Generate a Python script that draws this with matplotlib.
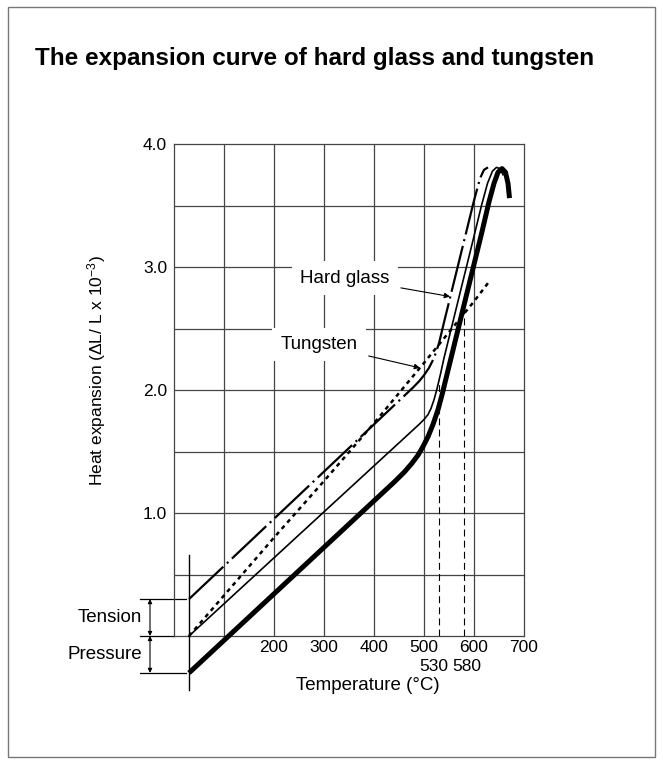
import numpy as np
import matplotlib
matplotlib.use("Agg")
import matplotlib.pyplot as plt
from matplotlib.patches import Rectangle

plt.rcParams['font.family'] = ['Liberation Sans', 'DejaVu Sans']
plt.rcParams['mathtext.fontset'] = 'custom'
plt.rcParams['mathtext.rm'] = 'Liberation Sans'
plt.rcParams['mathtext.it'] = 'Liberation Sans:italic'
plt.rcParams['lines.scale_dashes'] = False

# ---------------- data ----------------
title = "The expansion curve of hard glass and tungsten"
x_label = "Temperature (\u00b0C)"
y_label = "Heat expansion (\u0394L/ L x 10$^{-3}$)"
x_ticks = [200, 300, 400, 500, 600, 700]
y_ticks = [1.0, 2.0, 3.0, 4.0]
marked_temps = [530, 580]

# hard glass, sealed under tension (dash-dot)
glass_tension_t = [30, 478, 490, 500, 510, 520, 530, 540, 600, 612, 620, 628]
glass_tension_v = [0.30, 2.02, 2.07, 2.12, 2.18, 2.26, 2.38, 2.55, 3.54, 3.72, 3.79, 3.81]

# hard glass, neutral (thin solid)
glass_neutral_t = [30, 470, 490, 500, 508, 514, 520, 526, 533, 540, 600, 615, 627, 637, 645,
                   652, 658]
glass_neutral_v = [0.00, 1.645, 1.72, 1.76, 1.80, 1.85, 1.92, 2.01, 2.13, 2.26, 3.25, 3.50,
                   3.68, 3.78, 3.81, 3.80, 3.75]

# hard glass, sealed under pressure (thick solid)
glass_pressure_t = [30, 440, 460, 475, 488, 498, 508, 518, 528, 536, 545, 615, 630, 640, 648,
                    656, 663, 668, 671]
glass_pressure_v = [-0.30, 1.25, 1.33, 1.40, 1.47, 1.54, 1.62, 1.72, 1.84, 1.96, 2.11, 3.27,
                    3.53, 3.68, 3.77, 3.80, 3.77, 3.68, 3.56]

# tungsten (short dashes)
tungsten_t = [30, 200, 300, 400, 500, 600, 630]
tungsten_v = [0.00, 0.80, 1.26, 1.73, 2.22, 2.72, 2.88]

tension_level = 0.3
pressure_level = -0.3
start_temp = 30

# ---------------- figure ----------------
W, H = 663, 766
fig = plt.figure(figsize=(W / 100, H / 100), dpi=100)
fig.patch.set_facecolor('white')
fig.add_artist(Rectangle((8 / W, 9 / H), 647 / W, 750 / H, transform=fig.transFigure,
                         fill=False, edgecolor='#777777', lw=1.0))

fig.text(35 / W, 1 - 58 / H, title, fontsize=17.5, fontweight='bold', ha='left', va='center')

ax = fig.add_axes([174 / W, 130 / H, 350 / W, 492 / H])
ax.set_xlim(0, 700)
ax.set_ylim(0, 4.0)

gcol = '#444444'
for s in ax.spines.values():
    s.set_color(gcol)
    s.set_linewidth(0.9)

# grid
for t in range(100, 700, 100):
    ax.axvline(t, color=gcol, lw=0.9, zorder=1)
for v in np.arange(0.5, 4.0, 0.5):
    ax.axhline(v, color=gcol, lw=0.9, zorder=1)

ax.set_xticks(x_ticks)
ax.set_xticklabels([str(t) for t in x_ticks])
ax.set_yticks(y_ticks)
ax.set_yticklabels([f"{v:.1f}" for v in y_ticks])
ax.tick_params(axis='x', length=0, labelsize=12.5, pad=3)
ax.tick_params(axis='y', length=0, labelsize=12.5, pad=5)

ax.set_xlabel(x_label, fontsize=13.5)
ax.xaxis.set_label_coords((368 - 174) / 350, -(677 - 636) / 492)
ax.set_ylabel(y_label, fontsize=12.5)
ax.yaxis.set_label_coords(-(174 - 108) / 350, (636 - 371) / 492)

# curves
ax.plot(glass_tension_t, glass_tension_v, color='black', lw=1.6,
        linestyle=(0, (34, 3.5, 1.5, 3.5)), clip_on=False, zorder=4)
ax.plot(glass_neutral_t, glass_neutral_v, color='black', lw=1.2, clip_on=False, zorder=4)
ax.plot(glass_pressure_t, glass_pressure_v, color='black', lw=3.6, clip_on=False,
        zorder=4, solid_capstyle='butt')
ax.plot(tungsten_t, tungsten_v, color='black', lw=1.8,
        linestyle=(0, (3, 3)), clip_on=False, zorder=4)

# dashed markers at 530 / 580
tops = [np.interp(marked_temps[0], glass_neutral_t, glass_neutral_v),
        np.interp(marked_temps[1], glass_pressure_t, glass_pressure_v)]
for t, top in zip(marked_temps, tops):
    ax.plot([t, t], [0, top], color='black', lw=0.8, linestyle=(0, (5, 3)), zorder=3)
ax.text(519, -0.25, str(marked_temps[0]), fontsize=12.5, ha='center', va='center')
ax.text(585, -0.25, str(marked_temps[1]), fontsize=12.5, ha='center', va='center')

# origin line at start temperature
ax.plot([start_temp, start_temp], [-0.44, 0.66], color='black', lw=1.0, clip_on=False, zorder=3)

# tension / pressure brackets
for lvl in [tension_level, 0.0, pressure_level]:
    ax.plot([-68, 24 if lvl != 0 else 0], [lvl, lvl], color='black', lw=0.9, clip_on=False)
ax.annotate('', xy=(-48, tension_level), xytext=(-48, 0), annotation_clip=False,
            arrowprops=dict(arrowstyle='<|-|>', lw=0.8, color='black', mutation_scale=6,
                            shrinkA=0, shrinkB=0))
ax.annotate('', xy=(-48, 0), xytext=(-48, pressure_level), annotation_clip=False,
            arrowprops=dict(arrowstyle='<|-|>', lw=0.8, color='black', mutation_scale=6,
                            shrinkA=0, shrinkB=0))
ax.text(-64, tension_level / 2, 'Tension', fontsize=13.5, ha='right', va='center')
ax.text(-64, pressure_level / 2, 'Pressure', fontsize=13.5, ha='right', va='center')

# callouts
box = dict(boxstyle='square,pad=0.45', fc='white', ec='none')
ax.annotate('Hard glass', xy=(552, 2.76), xytext=(342, 2.91), fontsize=13.5,
            ha='center', va='center', bbox=box, zorder=5,
            arrowprops=dict(arrowstyle='-|>', lw=0.8, color='black', mutation_scale=8,
                            shrinkA=2, shrinkB=0))
ax.annotate('Tungsten', xy=(492, 2.18), xytext=(290, 2.37), fontsize=13.5,
            ha='center', va='center', bbox=box, zorder=5,
            arrowprops=dict(arrowstyle='-|>', lw=0.8, color='black', mutation_scale=8,
                            shrinkA=2, shrinkB=0))

fig.savefig('out.png', dpi=100, facecolor='white')
